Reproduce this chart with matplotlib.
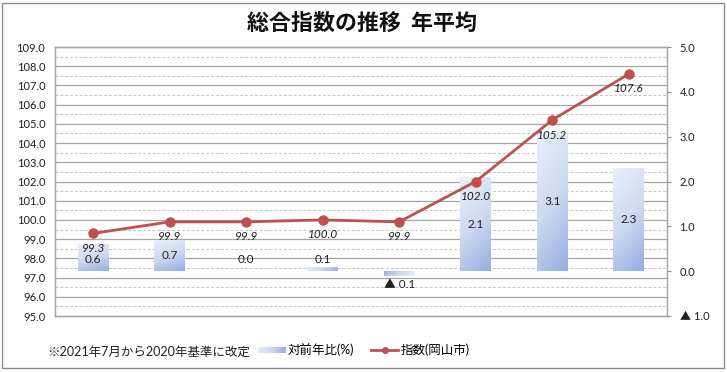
import numpy as np
import matplotlib
matplotlib.use("Agg")
import matplotlib.pyplot as plt
from matplotlib.colors import LinearSegmentedColormap
from matplotlib.patches import Rectangle
from matplotlib.legend_handler import HandlerBase
from matplotlib.lines import Line2D
import matplotlib.transforms as mtransforms

plt.rcParams['font.family'] = ['Lato', 'Noto Sans CJK JP', 'DejaVu Sans']

categories = ["平成29年", "平成30年", "令和元年", "令和2年", "令和3年", "令和4年", "令和5年", "令和6年"]
index_values = [99.3, 99.9, 99.9, 100.0, 99.9, 102.0, 105.2, 107.6]
yoy_values = [0.6, 0.7, 0.0, 0.1, -0.1, 2.1, 3.1, 2.3]
title = "総合指数の推移  年平均"
note = "※2021年7月から2020年基準に改定"
bar_label = "対前年比(%)"
line_label = "指数(岡山市)"

W, H = 727, 372
fig = plt.figure(figsize=(W / 100, H / 100), dpi=100)

# outer frame
fig.patches.append(Rectangle((2 / W, 4 / H), 722 / W, 365 / H, transform=fig.transFigure,
                             fill=False, edgecolor='#8c8c8c', linewidth=1.0))

left, right, top, bottom = 55, 667, 47, 316
ax2 = fig.add_axes([left / W, 1 - bottom / H, (right - left) / W, (bottom - top) / H])
ax = ax2.twinx()
ax.set_zorder(ax2.get_zorder() + 1)
ax.patch.set_visible(False)
ax.yaxis.tick_left()
ax.yaxis.set_label_position('left')
ax2.yaxis.tick_right()

x = np.arange(len(categories))
ax.set_ylim(95, 109)
ax2.set_ylim(-1, 5)
ax.set_xlim(-0.5, len(categories) - 0.5)
ax2.set_xlim(-0.5, len(categories) - 0.5)

# gridlines (behind bars) drawn in ax2 with left-scale transform
trans = mtransforms.blended_transform_factory(ax2.transAxes, ax.transData)
for v in np.arange(95, 109.01, 1.0):
    ax2.plot([0, 1], [v, v], transform=trans, color='#a6a6a6', lw=0.9, zorder=0.5, clip_on=False)
for v in np.arange(95.5, 109, 1.0):
    ax2.plot([0, 1], [v, v], transform=trans, color='#c4c4c4', lw=0.7, ls=(0, (3, 2)), zorder=0.5)

# gradient bars
cmap = LinearSegmentedColormap.from_list('g', ['#eaeff9', '#cfdaf1', '#95aee2'])
bars = ax2.bar(x, yoy_values, width=0.4, color='none', edgecolor='none', zorder=2)
yy, xx = np.mgrid[0:1:60j, 0:1:30j]
for rect, v in zip(bars, yoy_values):
    x0, w = rect.get_x(), rect.get_width()
    h = rect.get_height()
    if h == 0:
        continue
    if h > 0:
        t = 0.75 * (1 - yy) + 0.25 * xx
        if h < 0.3:
            t = 0.2 * (1 - yy) + 0.8 * xx
    else:
        t = 0.2 * yy + 0.8 * (1 - xx)
    ylo, yhi = min(0, h), max(0, h)
    im = ax2.imshow(t, cmap=cmap, origin='lower', extent=(x0, x0 + w, ylo, yhi),
                    aspect='auto', zorder=2, vmin=0, vmax=1)
    im.set_clip_path(rect)
ax2.set_xlim(-0.5, len(categories) - 0.5)
ax2.set_ylim(-1, 5)

# bar labels
for xi, v in zip(x, yoy_values):
    if abs(v) >= 0.7:
        ypos = v / 2
    elif v < 0:
        ypos = -0.3
    else:
        ypos = 0.27
    txt = f"{v:.1f}" if v >= 0 else f"▲ {abs(v):.1f}"
    ax2.text(xi, ypos, txt, ha='center', va='center', fontsize=8.5, color='#202020', zorder=5)

# index line
ax.plot(x, index_values, color='#c0504d', lw=2.0, marker='o', markersize=6.5, zorder=4,
        solid_capstyle='round')
for xi, v in zip(x, index_values):
    ax.annotate(f"{v:.1f}", (xi, v), xytext=(0, -10.8), textcoords='offset points',
                ha='center', va='center', fontsize=8.5, style='italic', color='#202020', zorder=5)

# axes styling
ax.set_yticks(np.arange(95, 109.01, 1.0))
ax.set_yticklabels([f"{v:.1f}" for v in np.arange(95, 109.01, 1.0)], fontsize=8)
ax.tick_params(axis='y', length=0, pad=7, colors='#202020')
r_ticks = np.arange(-1, 5.01, 1.0)
ax2.set_yticks(r_ticks)
ax2.set_yticklabels([f"{v:.1f}" if v >= 0 else f"▲ {abs(v):.1f}" for v in r_ticks], fontsize=8)
ax2.tick_params(axis='y', length=3, pad=6, color='#8c8c8c', labelcolor='#202020', direction='out')
ax2.set_xticks(x)
ax2.set_xticklabels(categories, fontsize=9)
ax2.tick_params(axis='x', length=4, pad=6, color='#8c8c8c', labelcolor='#202020', direction='out')
ax.set_xticks([])
for a in (ax, ax2):
    for s in a.spines.values():
        s.set_color('#a6a6a6')
        s.set_linewidth(0.9)

# title and note
fig.text(362 / W, 1 - 23 / H, title, ha='center', va='center', fontsize=15.8, fontweight='bold',
         family=['Noto Sans CJK JP', 'DejaVu Sans'], color='#111111')
fig.text(47 / W, 1 - 352 / H, note, ha='left', va='center', fontsize=9, color='#202020')


# legend with gradient patch
class GradHandler(HandlerBase):
    def create_artists(self, legend, orig_handle, xdescent, ydescent, width, height, fontsize, trans):
        arts = []
        n = 20
        for i in range(n):
            r = Rectangle((-xdescent + width * i / n, -ydescent + height * 0.15), width / n + 0.3,
                          height * 0.65, facecolor=cmap(0.15 + 0.8 * i / (n - 1)), edgecolor='none',
                          transform=trans)
            arts.append(r)
        return arts


bar_handle = Rectangle((0, 0), 1, 1)
line_handle = Line2D([], [], color='#c0504d', lw=2.0, marker='o', markersize=4)
fig.legend([bar_handle, line_handle], [bar_label, line_label], loc='center',
           bbox_to_anchor=(364 / W, 1 - 350 / H), ncol=2, frameon=False, fontsize=9,
           handler_map={Rectangle: GradHandler()}, handlelength=2.2, handletextpad=0.2,
           columnspacing=1.3, borderpad=0)

fig.savefig("out.png", dpi=100)
